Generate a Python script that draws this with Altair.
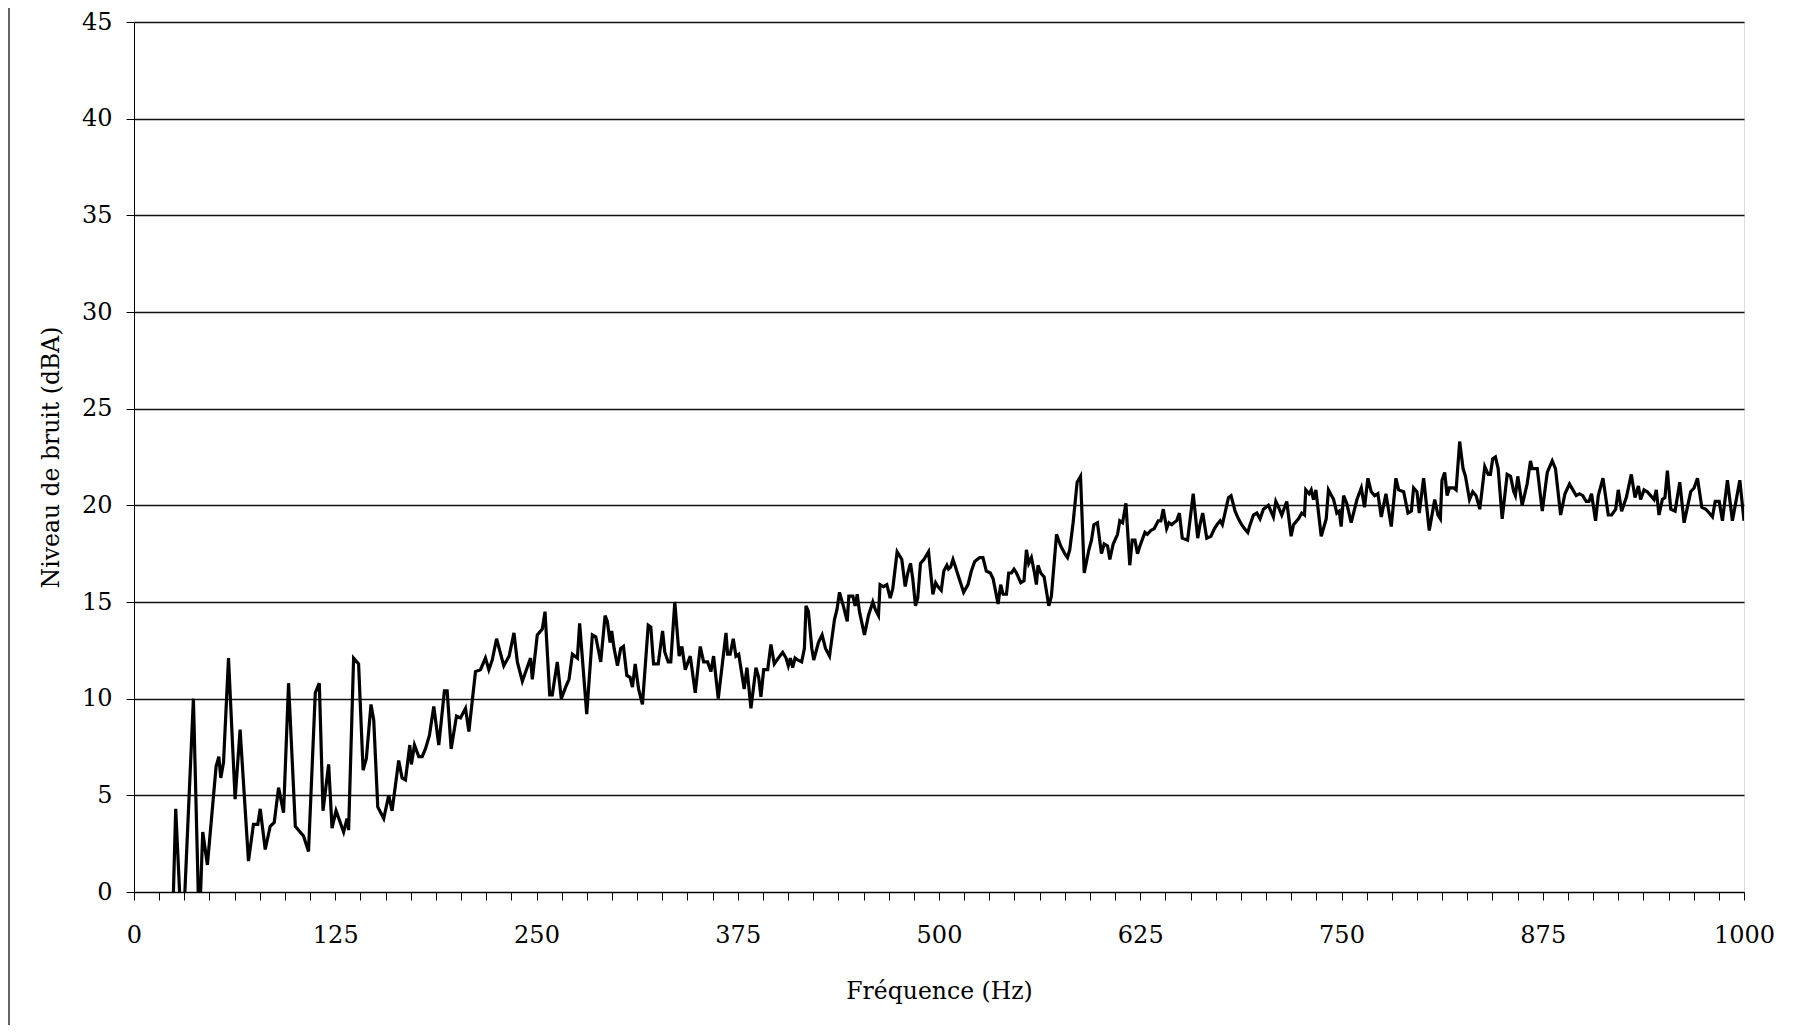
import altair as alt
import pandas as pd

# Frequency (Hz) and noise level (dBA)
FREQ_A = [20.0, 23.5, 25.9, 30.0, 36.9, 40.5, 42.7, 45.6, 51.0, 52.7, 53.9, 55.6, 58.7, 62.8, 65.9,
          71.1, 74.2, 76.9, 78.4, 81.5, 84.6, 87.1, 89.8, 92.9, 96.0, 100.2, 105.3, 108.4, 112.6,
          115.1, 117.4, 120.9, 123.0, 125.5, 130.2, 132.3, 133.3, 136.4, 139.5]
LEVEL_A = [-4.0, -3.0, 4.3, -3.0, 10.0, -2.0, 3.1, 1.4, 6.5, 7.0, 5.9, 6.7, 12.1, 4.8, 8.4,
           1.6, 3.5, 3.5, 4.3, 2.2, 3.4, 3.6, 5.4, 4.1, 10.8, 3.4, 2.9, 2.1, 10.3,
           10.8, 4.2, 6.6, 3.3, 4.2, 3.1, 3.8, 3.2, 12.1, 11.8]

FREQ_B = [142.3, 144.3, 147.2, 148.9, 151.4, 155.1, 158.2, 160.3, 164.4, 166.5, 168.6, 171.3, 172.3,
          174.2, 176.9, 179.0, 181.0, 183.5, 186.2, 189.3, 192.8, 194.5, 197.0, 200.3, 202.8, 205.9,
          208.0, 212.1, 215.2, 218.3, 220.4, 222.5, 225.2, 229.7, 233.0, 236.0, 238.1, 241.2, 246.3,
          247.4, 250.5, 253.6, 255.3, 258.2, 259.8, 262.9, 265.4, 268.1, 270.2, 272.3, 275.4, 276.8]
LEVEL_B = [6.3, 6.9, 9.7, 8.9, 4.4, 3.8, 5.0, 4.2, 6.8, 5.9, 5.8, 7.6, 6.6,
           7.6, 7.0, 7.0, 7.4, 8.1, 9.6, 7.6, 10.4, 10.4, 7.4, 9.1, 9.0, 9.5,
           8.3, 11.4, 11.5, 12.1, 11.5, 12.0, 13.1, 11.7, 12.2, 13.4, 11.9, 10.9, 12.1,
           11.0, 13.3, 13.6, 14.5, 10.2, 10.2, 11.9, 10.0, 10.6, 11.0, 12.3, 12.1, 13.9]

FREQ_C = [281.2, 284.7, 286.8, 289.9, 292.6, 294.0, 295.7, 296.7, 298.2, 300.3, 302.3, 304.0, 306.1,
          308.1, 309.6, 311.3, 313.4, 315.8, 319.4, 321.0, 322.7, 325.6, 328.3, 329.7, 331.8, 333.4,
          335.9, 338.6, 340.3, 342.4, 345.5, 348.6, 351.7, 353.8, 356.3, 358.3, 360.0, 362.9, 367.7,
          368.7, 370.3, 372.2, 373.9, 375.6, 379.0, 380.7, 383.2, 386.3, 388.0, 389.4, 391.1, 393.6,
          395.6, 397.7, 400.2, 402.9, 405.0, 406.4, 407.7, 409.1, 410.6, 412.2, 414.7]
LEVEL_C = [9.2, 13.3, 13.2, 11.9, 14.3, 14.0, 12.9, 13.5, 12.6, 11.7, 12.6, 12.7, 11.2,
           11.1, 10.6, 11.8, 10.5, 9.7, 13.8, 13.7, 11.8, 11.8, 13.5, 12.4, 11.9, 11.9,
           15.0, 12.2, 12.7, 11.5, 12.2, 10.3, 12.7, 11.9, 11.9, 11.4, 12.2, 10.0, 13.4,
           12.3, 12.3, 13.1, 12.2, 12.3, 10.5, 11.6, 9.5, 11.6, 11.1, 10.1, 11.5, 11.5,
           12.8, 11.8, 12.1, 12.4, 12.1, 11.7, 12.1, 11.6, 12.1, 12.0, 11.9]

FREQ_D = [416.4, 417.4, 418.9, 421.0, 422.2, 425.1, 427.4, 429.5, 432.0, 435.1, 436.6, 438.2, 440.9,
          443.0, 444.0, 446.5, 447.9, 449.2, 450.6, 453.7, 456.2, 458.9, 460.5, 462.4, 463.4, 465.5,
          467.6, 469.7, 471.3, 474.0, 476.9, 479.0, 480.6, 482.3, 483.7, 485.4, 486.8, 488.5, 490.6,
          493.5, 496.2, 497.9, 499.3, 501.4, 503.0, 504.9, 505.9, 507.2, 508.7, 510.3, 511.8, 515.3,
          518.0, 520.1, 522.2, 525.2, 527.3, 529.4, 531.9, 533.6, 536.7, 538.3, 539.8, 541.9, 543.3,
          545.0]
LEVEL_D = [12.6, 14.8, 14.5, 12.6, 12.0, 12.9, 13.3, 12.6, 12.2, 14.1, 14.6, 15.5, 14.7,
           14.0, 15.3, 15.3, 14.8, 15.4, 14.5, 13.3, 14.3, 15.0, 14.6, 14.3, 15.9, 15.8,
           15.9, 15.2, 15.7, 17.6, 17.2, 15.8, 16.5, 17.0, 16.2, 14.8, 15.2, 17.0, 17.2,
           17.6, 15.4, 16.0, 15.8, 15.6, 16.6, 16.9, 16.7, 16.8, 17.2, 16.8, 16.4, 15.5,
           15.9, 16.6, 17.1, 17.3, 17.3, 16.6, 16.5, 16.2, 14.9, 15.9, 15.4, 15.4, 16.5,
           16.5]

FREQ_E = [546.6, 548.1, 550.8, 552.8, 554.3, 555.7, 557.4, 559.1, 560.5, 561.5, 563.2, 565.3, 568.2,
          569.8, 573.0, 575.6, 578.1, 579.8, 581.2, 583.3, 585.8, 587.9, 590.2, 593.1, 594.7, 596.2,
          598.4, 600.9, 602.6, 604.7, 606.1, 608.2, 610.9, 612.3, 614.0, 616.1, 618.5, 620.0, 621.7,
          623.3, 624.8, 627.9, 629.4, 631.6, 633.7, 636.2, 637.8, 639.3, 641.4, 642.8, 644.5, 645.9,
          647.6, 649.3, 651.1, 654.4, 657.9, 660.7, 662.1, 663.8, 666.3, 668.9, 671.1, 673.1, 674.6,
          676.0, 679.8, 681.4]
LEVEL_E = [16.7, 16.5, 16.0, 16.1, 17.7, 17.0, 17.3, 16.6, 15.9, 16.9, 16.5, 16.3, 14.8,
           15.3, 18.5, 17.9, 17.5, 17.3, 17.7, 19.1, 21.2, 21.5, 16.5, 17.7, 18.2, 19.0,
           19.1, 17.5, 18.0, 17.9, 17.2, 18.0, 18.5, 19.2, 19.1, 20.1, 16.9, 18.2, 18.2,
           17.5, 17.9, 18.6, 18.5, 18.7, 18.8, 19.2, 19.2, 19.8, 18.8, 19.1, 19.0, 19.1,
           19.2, 19.6, 18.3, 18.2, 20.6, 18.3, 19.0, 19.6, 18.3, 18.4, 18.8, 19.05, 19.2,
           19.0, 20.4, 20.5]

FREQ_F = [683.9, 686.0, 688.0, 689.7, 691.8, 693.2, 695.3, 697.4, 699.4, 701.5, 704.6, 707.7, 709.2,
          710.9, 712.9, 716.0, 718.7, 720.2, 723.3, 725.3, 727.0, 727.8, 729.9, 731.2, 732.6, 734.1,
          737.4, 740.5, 741.9, 745.1, 747.1, 748.6, 749.8, 751.3, 753.3, 756.0, 759.6, 762.3, 764.3,
          766.4, 768.5, 770.6, 772.6, 774.7, 777.6, 780.9, 783.8, 785.5, 788.6, 791.3, 793.4, 794.8,
          796.9, 798.3, 801.0, 804.5, 807.9, 809.9, 811.4, 812.4, 814.1, 815.6, 817.0, 819.7, 821.2,
          823.4, 825.5, 827.0, 829.5, 831.5, 833.6, 835.9, 839.0]
LEVEL_F = [19.7, 19.3, 19.0, 18.8, 18.6, 19.0, 19.5, 19.6, 19.3, 19.8, 20.0, 19.4, 20.2,
           19.9, 19.5, 20.2, 18.4, 19.0, 19.3, 19.6, 19.5, 20.8, 20.6, 20.8, 20.3, 20.8,
           18.4, 19.3, 20.8, 20.3, 19.6, 19.7, 18.9, 20.5, 20.1, 19.1, 20.3, 20.9, 19.9,
           21.4, 20.7, 20.5, 20.6, 19.4, 20.6, 18.9, 21.4, 20.8, 20.7, 19.6, 19.7, 20.9,
           20.7, 19.6, 21.4, 18.7, 20.3, 19.5, 19.3, 21.3, 21.7, 20.5, 20.9, 20.9, 20.8,
           23.3, 21.9, 21.5, 20.3, 20.7, 20.5, 19.8, 22.0]

FREQ_G = [841.1, 842.5, 843.9, 845.6, 847.3, 849.8, 852.9, 855.0, 857.0, 858.0, 859.5, 862.2, 865.3,
          867.4, 868.4, 871.6, 874.7, 877.8, 880.9, 882.9, 886.1, 888.8, 891.6, 893.7, 895.8, 897.8,
          899.9, 902.0, 903.7, 905.3, 907.8, 909.5, 912.4, 915.7, 917.8, 920.3, 921.9, 924.0, 926.9,
          930.0, 932.3, 934.4, 935.8, 937.9, 939.9, 942.0, 944.1, 945.5, 947.2, 949.3, 950.9, 952.4,
          954.5, 957.2, 960.1, 962.8, 966.9, 969.0, 971.1, 973.8, 976.3, 978.4, 980.4, 982.1, 984.6,
          986.6, 989.7, 992.8, 997.4, 1000.0]
LEVEL_G = [21.6, 21.6, 22.4, 22.5, 21.9, 19.3, 21.6, 21.5, 20.7, 20.5, 21.5, 20.0, 21.1,
           22.3, 21.9, 21.9, 19.7, 21.7, 22.3, 21.9, 19.5, 20.6, 21.1, 20.8, 20.5, 20.6,
           20.5, 20.2, 20.2, 20.6, 19.2, 20.5, 21.4, 19.5, 19.5, 19.8, 20.8, 19.7, 20.4,
           21.6, 20.4, 21.0, 20.3, 20.8, 20.7, 20.5, 20.3, 20.8, 19.5, 20.3, 20.4, 21.8,
           19.8, 19.7, 21.2, 19.1, 20.7, 20.9, 21.4, 19.9, 19.8, 19.6, 19.4, 20.2, 20.2,
           19.2, 21.3, 19.2, 21.3, 19.2]

Y_TICKS = [0, 5, 10, 15, 20, 25, 30, 35, 40, 45]
X_TICKS = [i * 15.625 for i in range(65)]  # minor ticks; labelled every 125 Hz
X_TITLE = "Fréquence (Hz)"
Y_TITLE = "Niveau de bruit (dBA)"

FREQ = FREQ_A + FREQ_B + FREQ_C + FREQ_D + FREQ_E + FREQ_F + FREQ_G
LEVEL = LEVEL_A + LEVEL_B + LEVEL_C + LEVEL_D + LEVEL_E + LEVEL_F + LEVEL_G
df = pd.DataFrame({"freq": FREQ, "level": LEVEL})

FONT = "DejaVu Serif"
W, H = 1610, 870

line = alt.Chart(df).mark_line(color="black", strokeWidth=3.2, clip=True).encode(
    x=alt.X(
        "freq:Q",
        scale=alt.Scale(domain=[0, 1000], nice=False, zero=False),
        axis=alt.Axis(
            values=X_TICKS,
            format="d",
            labelExpr="datum.value % 125 == 0 ? datum.label : ''",
            labelOverlap=False,
            labelFlush=False,
            grid=False,
            tickSize=8,
            tickColor="black",
            domainColor="black",
            labelFont=FONT,
            labelFontSize=24,
            labelColor="black",
            labelBaseline="middle",
            labelPadding=35,
            title=X_TITLE,
            titleFont=FONT,
            titleFontSize=23.5,
            titleFontWeight="normal",
            titleColor="black",
            titleX=W / 2,
            titleY=99,
            titleBaseline="middle",
            titleAlign="center",
        ),
    ),
    y=alt.Y(
        "level:Q",
        scale=alt.Scale(domain=[0, 45], nice=False),
        axis=alt.Axis(
            values=Y_TICKS,
            grid=True,
            gridColor="#111111",
            gridWidth=1.4,
            tickSize=8,
            tickColor="black",
            domainColor="black",
            labelFont=FONT,
            labelFontSize=24,
            labelColor="black",
            labelPadding=14,
            title=Y_TITLE,
            titleFont=FONT,
            titleFontSize=23.5,
            titleFontWeight="normal",
            titleColor="black",
            titleX=-83,
            titleY=H / 2,
            titleAngle=-90,
            titleAlign="center",
            titleBaseline="middle",
        ),
    ),
)

frame_left = alt.Chart(df).mark_rule(color="#666666", strokeWidth=1).encode(
    x=alt.value(-125), y=alt.value(-14), y2=alt.value(1004)
)
frame_bottom = alt.Chart(df).mark_rule(color="#666666", strokeWidth=1).encode(
    x=alt.value(-125), x2=alt.value(1650), y=alt.value(1004)
)

chart = (
    alt.layer(frame_left, frame_bottom, line)
    .properties(
        width=W,
        height=H,
        padding={"left": 126, "top": 14, "right": 41, "bottom": 133},
        autosize=alt.AutoSizeParams(type="none"),
    )
    .configure_view(stroke="black", strokeWidth=1.2)
    .configure(background="white")
)

chart.save("out.html", embed_options={"renderer": "svg", "actions": False})
